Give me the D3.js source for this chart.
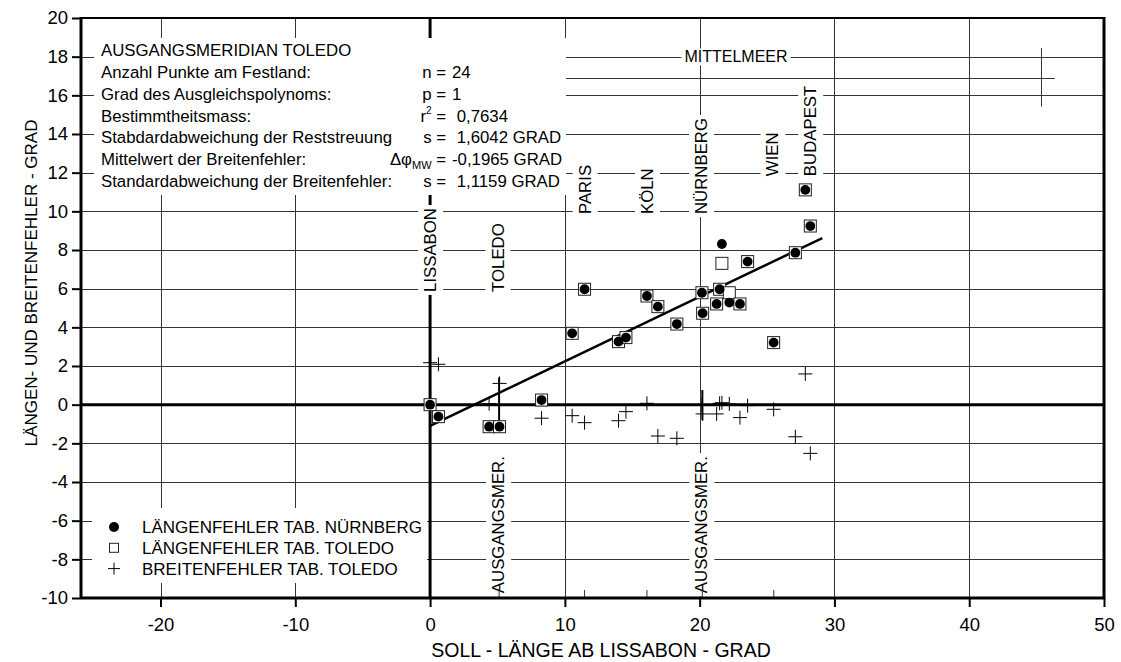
<!DOCTYPE html>
<html>
<head>
<meta charset="utf-8">
<script src="https://cdn.jsdelivr.net/npm/d3@7"></script>
<style>
  body { margin: 0; background: #fff; }
  svg { display: block; font-family: "Liberation Sans", Arial, sans-serif; }
</style>
</head>
<body>
<div id="chart"></div>
<script>
// data
// x = soll-laenge ab lissabon, one entry per point on land
const lonNuernberg = [0, 0.62, 4.38, 5.15, 8.27, 10.54, 11.46, 13.98, 14.53, 16.09, 16.9, 18.31,
  20.17, 20.22, 21.48, 22.2, 21.26, 22.99, 21.65, 23.56, 27.1, 28.21, 27.84, 25.49];
const errNuernberg = [0, -0.62, -1.14, -1.14, 0.24, 3.69, 5.97, 3.26, 3.47, 5.62, 5.07, 4.17,
  5.79, 4.73, 5.97, 5.28, 5.21, 5.21, 8.31, 7.4, 7.86, 9.24, 11.11, 3.21];

const lonToledo = [0, 0.62, 4.38, 5.15, 8.27, 10.54, 11.46, 13.98, 14.53, 16.09, 16.9, 18.31,
  20.17, 20.22, 21.48, 22.2, 21.26, 22.99, 21.65, 23.56, 27.1, 28.21, 27.84, 25.49];
const errToledo = [0, -0.62, -1.14, -1.14, 0.24, 3.69, 5.97, 3.26, 3.47, 5.62, 5.07, 4.17,
  5.79, 4.73, 5.97, 5.79, 5.21, 5.21, 7.31, 7.4, 7.86, 9.24, 11.11, 3.21];

const lonBreite = [0, 0.62, 4.38, 5.15, 8.27, 10.54, 11.46, 13.98, 14.53, 16.09, 16.9, 18.31,
  20.17, 20.22, 21.26, 21.48, 21.65, 22.2, 22.99, 23.56, 25.49, 27.1, 27.84, 28.21];
const errBreite = [2.17, 2.09, 0.05, 1.1, -0.7, -0.57, -0.93, -0.83, -0.36, 0.07, -1.62, -1.74,
  0, -0.48, -0.48, 0.07, 0.1, 0.04, -0.67, -0.05, -0.24, -1.66, 1.59, -2.52];

// ausgleichsgerade (p = 1)
const fitLon = [0, 29.1];
const fitErr = [-1.1, 8.62];

// mittelmeer
const meerLon = [10, 46.35];
const meerErr = 16.92;
const meerPoint = { lon: 45.36, lo: 15.42, hi: 18.44 };

// cities and ausgangsmeridiane
const cities = ["LISSABON", "TOLEDO", "PARIS", "KÖLN", "NÜRNBERG", "WIEN", "BUDAPEST"];
const cityLon = [0, 5.0, 11.46, 16.09, 20.1, 25.4, 28.2];
const meridianLon = [5.12, 20.2];
const meridianLo = [-1.45, -0.8];
const meridianHi = [1.4, 0.76];
const bottomMarks = [5.12, 11.46, 16.09, 20.2, 25.5];

// ticks
const xTicks = [-20, -10, 0, 10, 20, 30, 40, 50];
const yTicks = d3.range(-10, 21, 2);

const statLabels = ["Anzahl Punkte am Festland:", "Grad des Ausgleichspolynoms:", "Bestimmtheitsmass:",
  "Stabdardabweichung der Reststreuung", "Mittelwert der Breitenfehler:", "Standardabweichung der Breitenfehler:"];
const statSymbols = ["n", "p", "r2", "s", "dphi", "s"];
const statValues = ["24", "1", " 0,7634", " 1,6042 GRAD", "-0,1965 GRAD", " 1,1159 GRAD"];

const legendLabels = ["LÄNGENFEHLER TAB. NÜRNBERG", "LÄNGENFEHLER TAB. TOLEDO", "BREITENFEHLER TAB. TOLEDO"];

//svg
const W = 1121, H = 662;
const svg = d3.select('#chart').append('svg')
  .attr('width', W)
  .attr('height', H);

const x = d3.scaleLinear().domain([-25.9, 50]).range([81, 1104]);
const y = d3.scaleLinear().domain([-10, 20]).range([598, 18]);

const grid = svg.append('g').attr('id', 'grid');

// vertical grid lines
grid.selectAll('line.v')
  .data(xTicks.filter(d => d != 0 && d != 50))
  .join('line')
  .attr('class', 'v')
  .attr('x1', d => Math.round(x(d)) + 0.5).attr('x2', d => Math.round(x(d)) + 0.5)
  .attr('y1', y(20)).attr('y2', y(-10))
  .attr('stroke', '#333').attr('stroke-width', 1);

// horizontal grid lines
grid.selectAll('line.h')
  .data(yTicks.filter(d => d != 0 && d != -10 && d != 20))
  .join('line')
  .attr('class', 'h')
  .attr('x1', x(-25.9)).attr('x2', x(50))
  .attr('y1', d => Math.round(y(d)) + 0.5).attr('y2', d => Math.round(y(d)) + 0.5)
  .attr('stroke', '#333').attr('stroke-width', 1);

// zero lines
grid.append('line')
  .attr('x1', x(-25.9)).attr('x2', x(50))
  .attr('y1', y(0)).attr('y2', y(0))
  .attr('stroke', '#000').attr('stroke-width', 3);
grid.append('line')
  .attr('x1', x(0)).attr('x2', x(0))
  .attr('y1', y(20)).attr('y2', y(-10))
  .attr('stroke', '#000').attr('stroke-width', 3);

// mittelmeer lines
grid.append('line')
  .attr('x1', x(meerLon[0])).attr('x2', x(meerLon[1]))
  .attr('y1', Math.round(y(meerErr)) + 0.5).attr('y2', Math.round(y(meerErr)) + 0.5)
  .attr('stroke', '#333');
grid.append('line')
  .attr('x1', Math.round(x(meerPoint.lon)) + 0.5).attr('x2', Math.round(x(meerPoint.lon)) + 0.5)
  .attr('y1', y(meerPoint.lo)).attr('y2', y(meerPoint.hi))
  .attr('stroke', '#333');

// white boxes for the stats text and legend
svg.append('rect')
  .attr('x', 94).attr('y', 38).attr('width', 472).attr('height', 157)
  .attr('fill', '#fff');
svg.append('rect')
  .attr('x', 92).attr('y', 508).attr('width', 335).attr('height', 75)
  .attr('fill', '#fff');

// rotated labels with white knock-out
function vLabel(g, text, px, py) {
  const lg = g.append('g').attr('transform', `translate(${px},${py}) rotate(-90)`);
  const bg = lg.append('rect').attr('fill', '#fff');
  const t = lg.append('text')
    .attr('x', 0).attr('y', 0)
    .attr('dy', '0.36em')
    .attr('font-size', 16.8)
    .text(text);
  const b = t.node().getBBox();
  bg.attr('x', b.x - 3).attr('y', b.y - 3).attr('width', b.width + 6).attr('height', b.height + 6);
}

const labels = svg.append('g').attr('id', 'labels');
const cityBase = [5.83, 5.83, 9.86, 9.86, 9.86, 11.82, 11.82];
cities.forEach((c, i) => vLabel(labels, c, x(cityLon[i]), y(cityBase[i])));
meridianLon.forEach(d => vLabel(labels, "AUSGANGSMER.", x(d) - 1, y(-9.75)));

// mittelmeer label
{
  const lg = labels.append('g');
  const bg = lg.append('rect').attr('fill', '#fff');
  const t = lg.append('text')
    .attr('x', x(22.7)).attr('y', y(18))
    .attr('dy', '0.36em')
    .attr('text-anchor', 'middle')
    .attr('font-size', 16)
    .text('MITTELMEER');
  const b = t.node().getBBox();
  bg.attr('x', b.x - 3).attr('y', b.y).attr('width', b.width + 6).attr('height', b.height);
}

// meridian marks
svg.append('g').selectAll('line')
  .data(meridianLon)
  .join('line')
  .attr('x1', d => x(d)).attr('x2', d => x(d))
  .attr('y1', (d, i) => y(meridianLo[i])).attr('y2', (d, i) => y(meridianHi[i]))
  .attr('stroke', '#000').attr('stroke-width', 2);

// bottom city marks
svg.append('g').selectAll('line')
  .data(bottomMarks)
  .join('line')
  .attr('x1', d => x(d)).attr('x2', d => x(d))
  .attr('y1', y(-10)).attr('y2', y(-10) - 8)
  .attr('stroke', '#333');

// regression line
svg.append('line')
  .attr('x1', x(fitLon[0])).attr('y1', y(fitErr[0]))
  .attr('x2', x(fitLon[1])).attr('y2', y(fitErr[1]))
  .attr('stroke', '#000').attr('stroke-width', 2.5);

// points
const pts = svg.append('g').attr('id', 'points');
pts.selectAll('rect')
  .data(lonToledo)
  .join('rect')
  .attr('x', d => x(d) - 6).attr('y', (d, i) => y(errToledo[i]) - 6)
  .attr('width', 12).attr('height', 12)
  .attr('fill', '#fff').attr('stroke', '#222').attr('stroke-width', 1);
pts.selectAll('circle')
  .data(lonNuernberg)
  .join('circle')
  .attr('cx', d => x(d)).attr('cy', (d, i) => y(errNuernberg[i]))
  .attr('r', 4.9)
  .attr('fill', '#000');
pts.selectAll('path')
  .data(lonBreite)
  .join('path')
  .attr('d', (d, i) => {
    const cx = x(d), cy = y(errBreite[i]);
    return `M${cx - 7},${cy}H${cx + 7}M${cx},${cy - 7}V${cy + 7}`;
  })
  .attr('stroke', '#000').attr('stroke-width', 1).attr('fill', 'none');

// frame
const frame = svg.append('g').attr('id', 'frame');
frame.append('line').attr('x1', x(-25.9)).attr('x2', x(50)).attr('y1', y(20)).attr('y2', y(20))
  .attr('stroke', '#000').attr('stroke-width', 2);
frame.append('line').attr('x1', x(-25.9)).attr('x2', x(50)).attr('y1', y(-10)).attr('y2', y(-10))
  .attr('stroke', '#000').attr('stroke-width', 3);
frame.append('line').attr('x1', x(-25.9)).attr('x2', x(-25.9)).attr('y1', y(20) - 1).attr('y2', y(-10) + 1)
  .attr('stroke', '#000').attr('stroke-width', 3);
frame.append('line').attr('x1', x(50)).attr('x2', x(50)).attr('y1', y(20) - 1).attr('y2', y(-10) + 1)
  .attr('stroke', '#000').attr('stroke-width', 3);

// axes
const xAxis = svg.append('g')
  .attr('transform', `translate(0,${y(-10)})`)
  .call(d3.axisBottom(x).tickValues(xTicks).tickFormat(d => String(d)).tickSize(9).tickPadding(11));
const yAxis = svg.append('g')
  .attr('transform', `translate(${x(-25.9)},0)`)
  .call(d3.axisLeft(y).tickValues(yTicks).tickFormat(d => String(d)).tickSize(9).tickPadding(4));
[xAxis, yAxis].forEach(a => {
  a.select('.domain').remove();
  a.selectAll('.tick line').attr('stroke', '#000').attr('stroke-width', 2);
  a.selectAll('.tick text')
    .attr('font-size', 18.5)
    .attr('font-family', '"Liberation Sans", Arial, sans-serif')
    .attr('fill', '#000');
});

// axis titles
svg.append('text')
  .attr('x', 601).attr('y', 657)
  .attr('text-anchor', 'middle')
  .attr('font-size', 19.5)
  .text('SOLL - LÄNGE AB LISSABON - GRAD');
svg.append('text')
  .attr('transform', `translate(37,283) rotate(-90)`)
  .attr('text-anchor', 'middle')
  .attr('font-size', 17)
  .text('LÄNGEN- UND BREITENFEHLER - GRAD');

// stats text
const stats = svg.append('g').attr('font-size', 16.8);
stats.append('text').attr('x', 101).attr('y', 56).text('AUSGANGSMERIDIAN TOLEDO');
statLabels.forEach((d, i) => {
  const ty = 78 + i * 21.8;
  stats.append('text').attr('x', 101).attr('y', ty).text(d);
  const sym = stats.append('text').attr('x', 446).attr('y', ty).attr('text-anchor', 'end');
  if (statSymbols[i] == 'r2') {
    sym.append('tspan').text('r');
    sym.append('tspan').attr('font-size', 10).attr('dy', -8).text('2');
    sym.append('tspan').attr('dy', 8).text(' =');
  } else if (statSymbols[i] == 'dphi') {
    sym.append('tspan').text('Δφ');
    sym.append('tspan').attr('font-size', 11).attr('dy', 4).text('MW');
    sym.append('tspan').attr('dy', -4).text(' =');
  } else {
    sym.text(statSymbols[i] + ' =');
  }
  stats.append('text').attr('x', 452).attr('y', ty)
    .attr('xml:space', 'preserve')
    .style('white-space', 'pre')
    .text(statValues[i]);
});

// legend
const legend = svg.append('g').attr('font-size', 17);
legendLabels.forEach((d, i) => {
  const ly = 527 + i * 20.8;
  legend.append('text').attr('x', 142).attr('y', ly).attr('dy', '0.36em').text(d);
});
legend.append('circle').attr('cx', 114).attr('cy', 527).attr('r', 5).attr('fill', '#000');
legend.append('rect').attr('x', 109.5).attr('y', 543.3).attr('width', 9).attr('height', 9)
  .attr('fill', '#fff').attr('stroke', '#222');
legend.append('path').attr('d', `M108,568.6H120M114,562.6V574.6`).attr('stroke', '#000');
</script>
</body>
</html>
